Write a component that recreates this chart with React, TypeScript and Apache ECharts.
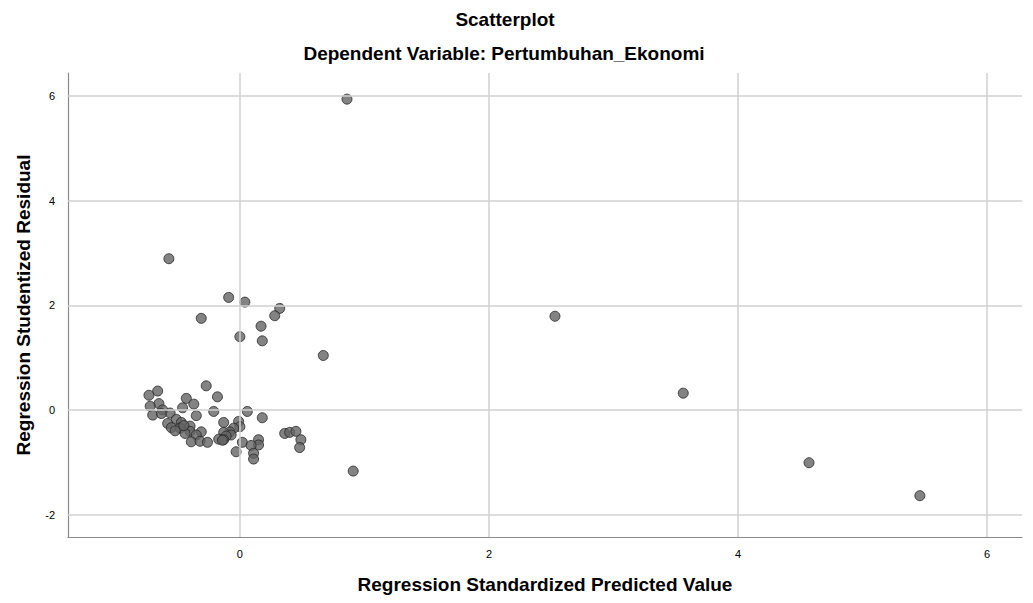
import React, { useEffect, useRef } from "react";
import * as echarts from "echarts";

const titleText = "Scatterplot";
const subtitleText = "Dependent Variable: Pertumbuhan_Ekonomi";
const xAxisTitle = "Regression Standardized Predicted Value";
const yAxisTitle = "Regression Studentized Residual";

const xTicks = [0, 2, 4, 6];
const yTicks = [-2, 0, 2, 4, 6];

const outlierPoints: number[][] = [
  [0.86, 5.94], [-0.57, 2.89], [-0.09, 2.15], [0.04, 2.06], [0.32, 1.94],
  [0.28, 1.8], [-0.31, 1.75], [0.17, 1.6], [0.0, 1.4], [0.18, 1.32],
  [0.67, 1.04], [2.53, 1.79], [3.56, 0.32], [4.57, -1.01], [5.46, -1.64],
  [0.91, -1.17],
];

const clusterPoints: number[][] = [
  [-0.27, 0.46], [-0.66, 0.36], [-0.73, 0.28], [-0.18, 0.25], [-0.43, 0.22],
  [-0.37, 0.11], [-0.65, 0.12], [-0.72, 0.07], [-0.46, 0.04], [-0.21, -0.03],
  [0.06, -0.03], [-0.62, 0.0], [-0.56, -0.06], [-0.7, -0.1], [-0.63, -0.07],
  [-0.35, -0.11], [0.18, -0.15], [-0.51, -0.18], [-0.13, -0.24], [-0.01, -0.22],
  [-0.58, -0.26], [-0.47, -0.24], [-0.4, -0.31], [-0.55, -0.34], [-0.48, -0.35],
  [0.0, -0.32], [-0.05, -0.35], [-0.08, -0.42], [-0.13, -0.43], [-0.31, -0.42],
  [-0.52, -0.4], [-0.4, -0.41], [0.36, -0.45], [0.4, -0.43], [0.45, -0.41],
  [-0.44, -0.45], [-0.35, -0.48], [-0.07, -0.48], [-0.11, -0.5], [-0.17, -0.56],
  [-0.13, -0.57], [0.49, -0.57], [-0.39, -0.61], [-0.32, -0.6], [-0.26, -0.62],
  [-0.14, -0.58], [0.02, -0.62], [0.15, -0.57], [0.15, -0.67], [0.09, -0.68],
  [0.48, -0.72], [-0.03, -0.8], [0.11, -0.83], [0.11, -0.94], [-0.45, -0.3],
];

const FONT = "'Liberation Sans', Arial, sans-serif";

export default function App() {
  const ref = useRef<HTMLDivElement>(null);
  useEffect(() => {
    document.body.style.margin = "0";
    if (!ref.current) return;
    const chart = echarts.init(ref.current, undefined, { renderer: "svg" });
    const gridColor = "#d0d0d0";
    chart.setOption({
      animation: false,
      backgroundColor: "#ffffff",
      textStyle: { fontFamily: FONT },
      graphic: [
        {
          type: "text",
          x: 505,
          y: 19,
          style: {
            text: titleText,
            font: `bold 19px ${FONT}`,
            fill: "#000",
            textAlign: "center",
            textVerticalAlign: "middle",
          },
        },
        {
          type: "text",
          x: 504,
          y: 53,
          style: {
            text: subtitleText,
            font: `bold 19px ${FONT}`,
            fill: "#000",
            textAlign: "center",
            textVerticalAlign: "middle",
          },
        },
      ],
      grid: { left: 68, top: 73, right: 11, bottom: 66, containLabel: false },
      xAxis: {
        type: "value",
        min: -1.38,
        max: 6.28,
        name: xAxisTitle,
        nameLocation: "middle",
        nameGap: 38,
        nameTextStyle: { fontFamily: FONT, fontSize: 19, fontWeight: "bold", color: "#000" },
        axisLine: { show: true, onZero: false, lineStyle: { color: "#8a8a8a", width: 1.2 } },
        axisTick: { show: false },
        splitLine: { show: false },
        axisLabel: {
          customValues: xTicks,
          fontFamily: FONT,
          fontSize: 11,
          color: "#000",
          margin: 11,
        },
      },
      yAxis: {
        type: "value",
        min: -2.43,
        max: 6.44,
        name: yAxisTitle,
        nameLocation: "middle",
        nameGap: 35,
        nameRotate: 90,
        nameTextStyle: { fontFamily: FONT, fontSize: 19, fontWeight: "bold", color: "#000" },
        axisLine: { show: true, onZero: false, lineStyle: { color: "#8a8a8a", width: 1.2 } },
        axisTick: { show: false },
        splitLine: { show: false },
        axisLabel: {
          customValues: yTicks,
          fontFamily: FONT,
          fontSize: 11,
          color: "#000",
          margin: 13,
        },
      },
      series: [
        {
          type: "scatter",
          data: [],
          z: 1,
          silent: true,
          markLine: {
            silent: true,
            symbol: "none",
            label: { show: false },
            lineStyle: { color: gridColor, width: 1.5, type: "solid" },
            data: [
              ...xTicks.map((v) => ({ xAxis: v })),
              ...yTicks.map((v) => ({ yAxis: v })),
            ],
          },
        },
        {
          type: "scatter",
          z: 3,
          symbol: "circle",
          symbolSize: 10,
          itemStyle: { color: "#646464", borderColor: "#262626", borderWidth: 1 },
          data: [...outlierPoints, ...clusterPoints],
        },
      ],
    });
    return () => chart.dispose();
  }, []);
  return <div ref={ref} style={{ width: 1033, height: 603 }} />;
}
